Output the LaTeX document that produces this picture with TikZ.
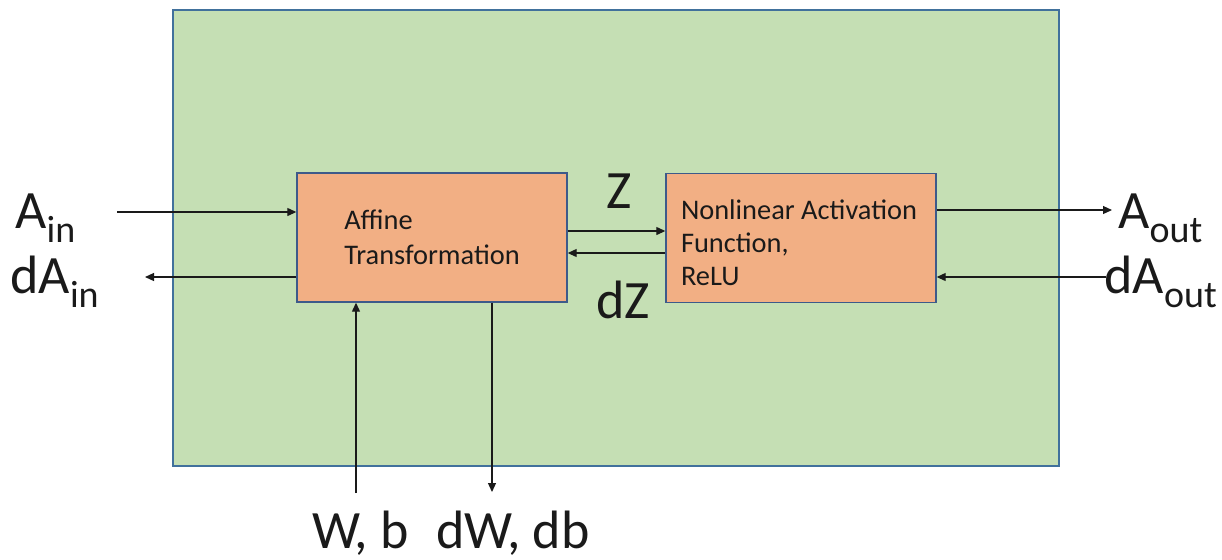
\documentclass[tikz,border=0pt]{standalone}
\usepackage{fontspec}
\setmainfont{Carlito}
\usetikzlibrary{arrows.meta}
\definecolor{framefill}{HTML}{C5DFB4}
\definecolor{framedraw}{HTML}{41719C}
\definecolor{boxfill}{HTML}{F2AF84}
\definecolor{boxdraw}{HTML}{3D5A8A}
\definecolor{ink}{HTML}{1A1A1A}
\newcommand{\biglab}[2]{\fontsize{27}{30}\selectfont #1\raisebox{-7pt}{\fontsize{19}{21}\selectfont #2}}
\tikzset{
  frame/.style={draw=framedraw, fill=framefill, line width=0.8pt, minimum width=443pt, minimum height=228pt, inner sep=0pt},
  blockbox/.style={draw=boxdraw, fill=boxfill, line width=0.7pt, minimum width=135pt, minimum height=64.5pt, inner sep=0pt},
  blocktext/.style={inner sep=0pt, align=left, text=ink},
  lab/.style={inner sep=0pt, anchor=base west, text=ink, font=\fontsize{27}{30}\selectfont},
  arr/.style={-{Triangle[length=4.5pt,width=4pt]}, line width=0.6pt, draw=ink},
}
\begin{document}
\begin{tikzpicture}[x=0.5pt,y=-0.5pt]
\useasboundingbox (0,0) rectangle (1222,559);
\node[frame] (frm) at (616,238) {};
\node[blockbox] (aff) at (432,237.5) {};
\node[blockbox] (act) at (801,238) {};
\node[blocktext, font=\fontsize{14.2}{17.5}\selectfont] (afftxt) at (432,237.5) {Affine\\Transformation};
\node[blocktext, font=\fontsize{14.2}{16.5}\selectfont] (acttxt) at (799,243) {Nonlinear Activation\\Function,\\ReLU};
% labels
\node[lab] (ain) at (15,228) {\biglab{A}{in}};
\node[lab] (dain) at (10,293) {\biglab{dA}{in}};
\node[lab] (aout) at (1118,228) {\biglab{A}{out}};
\node[lab] (daout) at (1104,293) {\biglab{dA}{out}};
\node[lab] (z) at (606,208) {Z};
\node[lab] (dz) at (596,318) {dZ};
\node[lab] (wb) at (312,548) {W, b};
\node[lab] (dwdb) at (436,548) {dW, db};
% endpoints
\coordinate (ainS) at (117,212);
\coordinate (dainE) at (145,277);
\coordinate (aoutE) at (1112,210);
\coordinate (daoutS) at (1106,277);
\coordinate (wbS) at (356,493);
\coordinate (dwE) at (492,492);
% connectors
\draw[arr] (ainS) -- (aff.west |- ainS);
\draw[arr] (aff.west |- dainE) -- (dainE);
\draw[arr] (aff.east |- 0,231) -- (act.west |- 0,231);
\draw[arr] (act.west |- 0,253) -- (aff.east |- 0,253);
\draw[arr] (act.east |- aoutE) -- (aoutE);
\draw[arr] (daoutS) -- (act.east |- daoutS);
\draw[arr] (wbS) -- (aff.south -| wbS);
\draw[arr] (aff.south -| dwE) -- (dwE);
\end{tikzpicture}
\end{document}
